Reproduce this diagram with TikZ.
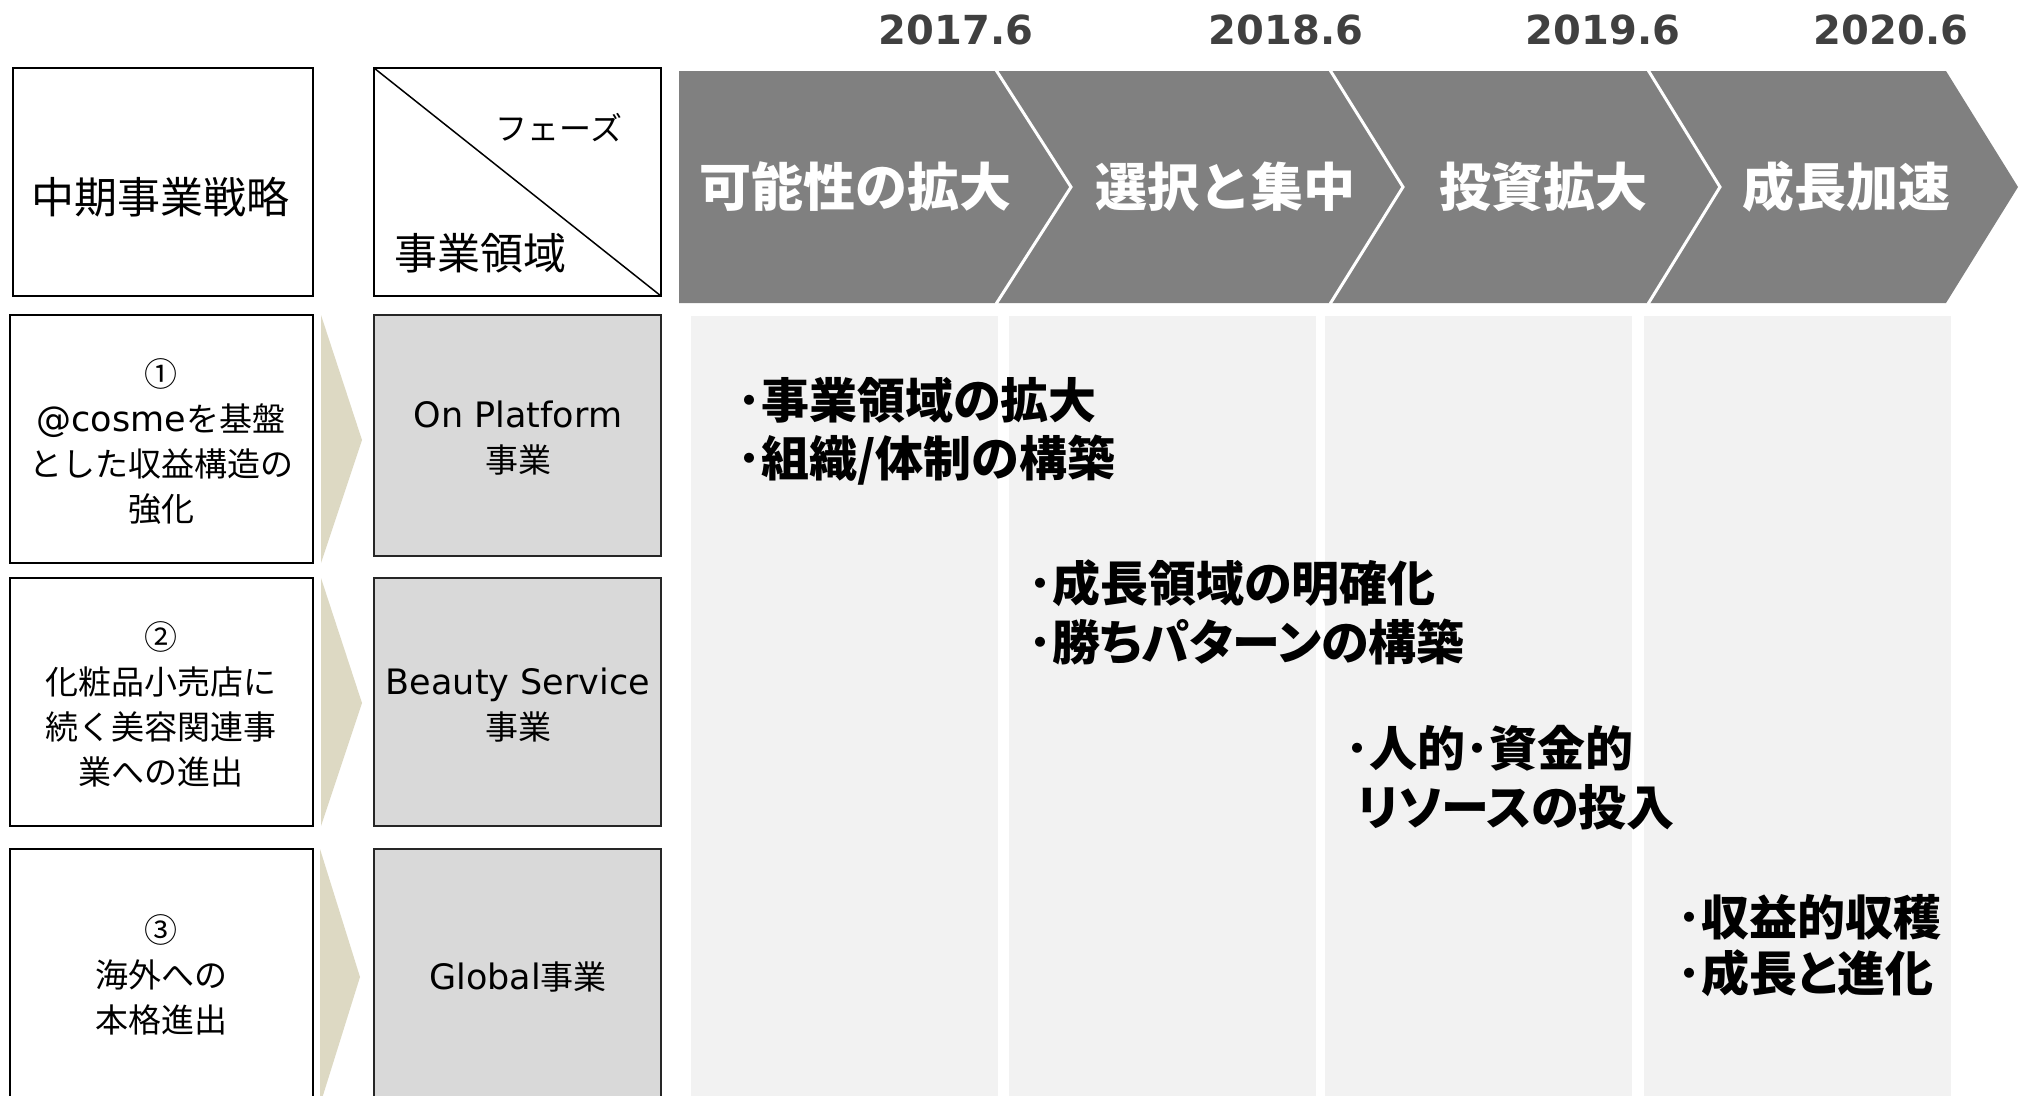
\documentclass[tikz,border=0pt]{standalone}
\usepackage{fontspec}
\newfontfamily\jp{Noto Sans CJK JP}
\newfontfamily\jpp[RawFeature=+palt]{Noto Sans CJK JP}
\newfontfamily\lat{DejaVu Sans}
\definecolor{chevgray}{HTML}{808080}
\definecolor{yeargray}{HTML}{404040}
\definecolor{colgray}{HTML}{F2F2F2}
\definecolor{midgray}{HTML}{D9D9D9}
\definecolor{tan}{HTML}{DDD9C3}
\newcommand{\latx}[1]{{\lat\fontsize{35}{45}\selectfont #1}}
\tikzset{
  hdrbox/.style={draw=black, line width=2pt, fill=white},
  leftbox/.style={draw=black, line width=2pt, fill=white},
  midbox/.style={draw=black!85, line width=2pt, fill=midgray},
  colbox/.style={fill=colgray},
  chevshape/.style={fill=chevgray},
  chevsep/.style={draw=white, line width=3pt},
  tanarrow/.style={fill=tan},
  yearlbl/.style={font=\lat\bfseries\fontsize{40}{40}\selectfont, text=yeargray, inner sep=0},
  phaselbl/.style={font=\jp\bfseries\fontsize{52}{52}\selectfont, text=white, inner sep=0},
  bodytxt/.style={font=\jpp\bfseries\fontsize{48}{48}\selectfont, anchor=west, inner sep=0},
  celltxt/.style={font=\jp\fontsize{33}{45}\selectfont, align=center, inner sep=0},
  hdrtxt/.style={font=\jp\fontsize{43}{43}\selectfont, inner sep=0},
}
\begin{document}
\begin{tikzpicture}[x=1pt,y=-1pt]
\useasboundingbox (0,0) rectangle (2024,1095);
% columns
\path[colbox] (691,316) rectangle (998,1110);
\path[colbox] (1009,316) rectangle (1316,1110);
\path[colbox] (1325,316) rectangle (1632,1110);
\path[colbox] (1644,316) rectangle (1951,1110);
% chevrons
\path[chevshape] (679,71) -- (996,71) -- (1071,187) -- (996,303) -- (679,303) -- cycle;
\path[chevshape] (996,71) -- (1330,71) -- (1403,187) -- (1330,303) -- (996,303) -- (1071,187) -- cycle;
\path[chevshape] (1330,71) -- (1648,71) -- (1720,187) -- (1648,303) -- (1330,303) -- (1403,187) -- cycle;
\path[chevshape] (1648,71) -- (1946,71) -- (2018,187) -- (1946,303) -- (1648,303) -- (1720,187) -- cycle;
\draw[chevsep] (996,70) -- (1071,187) -- (996,304);
\draw[chevsep] (1330,70) -- (1403,187) -- (1330,304);
\draw[chevsep] (1648,70) -- (1720,187) -- (1648,304);
% header boxes
\draw[hdrbox] (13,68) rectangle (313,296);
\draw[hdrbox] (374,68) rectangle (661,296);
\draw[line width=1.5pt] (374,68) -- (661,296);
% left boxes
\draw[leftbox] (10,315) rectangle (313,563);
\draw[leftbox] (10,578) rectangle (313,826);
\draw[leftbox] (10,849) rectangle (313,1110);
% middle boxes
\draw[midbox] (374,315) rectangle (661,556);
\draw[midbox] (374,578) rectangle (661,826);
\draw[midbox] (374,849) rectangle (661,1110);
% tan arrows
\path[tanarrow] (321,315) -- (362,440) -- (321,563) -- cycle;
\path[tanarrow] (321,578) -- (362,703) -- (321,826) -- cycle;
\path[tanarrow] (320,849) -- (360,977) -- (320,1105) -- cycle;
% header texts
\node[hdrtxt] (strat) at (160,197) {中期事業戦略};
\node[font=\jp\fontsize{32}{32}\selectfont, inner sep=0] (phase) at (559,128) {フェーズ};
\node[hdrtxt] (domain) at (480,253) {事業領域};
% years
\node[yearlbl] (y1) at (956,30) {2017.6};
\node[yearlbl] (y2) at (1286,30) {2018.6};
\node[yearlbl] (y3) at (1603,30) {2019.6};
\node[yearlbl] (y4) at (1891,30) {2020.6};
% phase labels
\node[phaselbl] (p1) at (855,187) {可能性の拡大};
\node[phaselbl] (p2) at (1225,187) {選択と集中};
\node[phaselbl] (p3) at (1543,187) {投資拡大};
\node[phaselbl] (p4) at (1846,187) {成長加速};
% left texts
\node[celltxt] (s1) at (161,442) {①\\\latx{@cosme}を基盤\\とした収益構造の\\強化};
\node[celltxt] (s2) at (161,704) {②\\化粧品小売店に\\続く美容関連事\\業への進出};
\node[celltxt] (s3) at (161,975) {③\\海外への\\本格進出};
% middle texts
\node[celltxt] (b1) at (518,438) {\latx{On Platform}\\事業};
\node[celltxt] (b2) at (518,705) {\latx{Beauty Service}\\事業};
\node[celltxt] (b3) at (518,977) {\latx{Global}事業};
% body texts
\node[bodytxt] (t1a) at (737,400) {･事業領域の拡大};
\node[bodytxt] (t1b) at (737,460) {･組織/体制の構築};
\node[bodytxt] (t2a) at (1028,583) {･成長領域の明確化};
\node[bodytxt] (t2b) at (1028,642) {･勝ちパターンの構築};
\node[bodytxt] (t3a) at (1345,748) {･人的･資金的};
\node[bodytxt] (t3b) at (1357,807) {リソースの投入};
\node[bodytxt] (t4a) at (1677,917) {･収益的収穫};
\node[bodytxt] (t4b) at (1677,973) {･成長と進化};
\end{tikzpicture}
\end{document}
